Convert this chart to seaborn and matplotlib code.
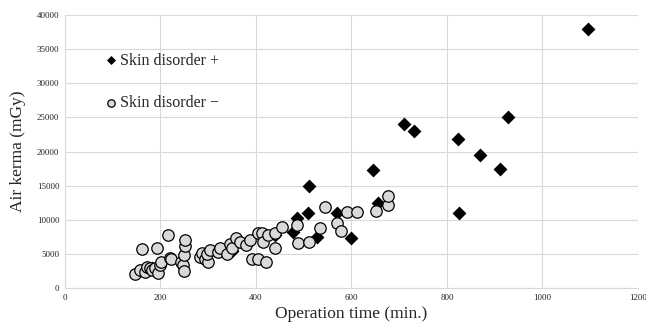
import matplotlib
matplotlib.use("Agg")
import matplotlib.pyplot as plt
import pandas as pd
import seaborn as sns

sns.set_style("whitegrid")
plt.rcParams['font.family'] = ['Liberation Serif', 'DejaVu Serif']

# Skin disorder + (diamonds)
pos_time = [1095, 928, 710, 730, 823, 870, 910, 645, 510, 655, 825, 508, 570,
            600, 478, 527, 485, 182, 350, 440]
pos_kerma = [38000, 25000, 24000, 23000, 21800, 19500, 17500, 17300, 15000, 12400,
             11000, 11000, 11000, 7300, 8200, 7400, 10200, 3000, 5400, 7800]

# Skin disorder - (circles)
neg_time = [147, 157, 168, 171, 178, 182, 188, 195, 199, 202, 162, 193, 216, 220,
            223, 244, 248, 250, 249, 251, 251, 283, 286, 293, 300, 297, 304, 321,
            325, 339, 346, 349, 358, 366, 380, 387, 391, 405, 405, 412, 415, 422,
            426, 440, 440, 455, 485, 489, 510, 534, 545, 569, 579, 590, 611, 651,
            677, 677]
neg_kerma = [2050, 2650, 2400, 3100, 3000, 2650, 2900, 2150, 3350, 3800, 5650, 5800,
             7750, 4350, 4200, 3850, 3350, 2550, 4850, 6100, 7050, 4600, 5100, 4300,
             3850, 4950, 5500, 5300, 5900, 5000, 6500, 5800, 7300, 6800, 6300, 7100,
             4300, 4200, 8000, 8000, 6800, 3850, 7700, 8100, 5800, 9000, 9300, 6600,
             6700, 8800, 11900, 9500, 8400, 11100, 11100, 11300, 12200, 13500]

pos = pd.DataFrame({"time": pos_time, "kerma": pos_kerma})
neg = pd.DataFrame({"time": neg_time, "kerma": neg_kerma})

fig = plt.figure(figsize=(6.46, 3.28), dpi=100)
ax = fig.add_axes([0.1006, 0.122, 0.887, 0.832])

sns.scatterplot(data=pos, x="time", y="kerma", marker="D", s=50, color="black",
                edgecolor="black", linewidth=0, label="Skin disorder +", ax=ax, zorder=3)
sns.scatterplot(data=neg, x="time", y="kerma", marker="o", s=68, color="#d9d9d9",
                edgecolor="black", linewidth=0.9, label="Skin disorder \u2212", ax=ax, zorder=4)

ax.set_xlim(0, 1200)
ax.set_ylim(0, 40000)
ax.set_xticks(range(0, 1201, 200))
ax.set_yticks(range(0, 40001, 5000))
ax.grid(True, color="#d9d9d9", linewidth=0.8)
ax.tick_params(axis="both", labelsize=6.5, length=0, colors="#262626", pad=4)
for side in ["top", "right"]:
    ax.spines[side].set_visible(False)
for side in ["left", "bottom"]:
    ax.spines[side].set_color("#d9d9d9")
    ax.spines[side].set_linewidth(0.8)

ax.set_xlabel("Operation time (min.)", fontsize=12.5, labelpad=3)
ax.set_ylabel("Air kerma (mGy)", fontsize=12.5, labelpad=8)

leg = ax.legend(loc="upper left", bbox_to_anchor=(0.041, 0.915), frameon=False,
                fontsize=11.5, labelspacing=1.65, handlelength=1.0,
                handletextpad=0.1, markerscale=0.65)

fig.savefig("out.png", dpi=100)
